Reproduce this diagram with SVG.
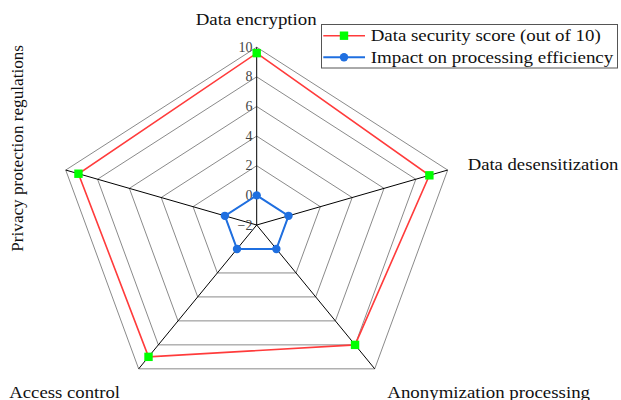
<svg xmlns="http://www.w3.org/2000/svg" width="621" height="400" viewBox="0 0 621 400">
<style>
.ring{fill:none;stroke:#8a8a8a;stroke-width:1}
.axis{stroke:#000;stroke-width:1;fill:none}
.lbl{font-family:"Liberation Serif","Times New Roman",serif;font-size:16px;fill:#111}
.tick{font-family:"Liberation Serif","Times New Roman",serif;font-size:14px;fill:#444;text-anchor:end;dominant-baseline:central}
.red{fill:none;stroke:#ff3b3b;stroke-width:1.6}
.blue{fill:none;stroke:#1f6fe0;stroke-width:2}
.sq{fill:#00ff00}
.dot{fill:#1f6fe0}
</style>
<defs>
<rect id="sq" x="-4.2" y="-4.2" width="8.4" height="8.4" class="sq"/>
<circle id="dot" r="4.2" class="dot"/>
</defs>
<rect width="621" height="400" fill="#fff"/>
<g id="grid">
<polygon class="ring" points="256.7,195.37 288.53,215.84 276.37,248.97 237.03,248.97 224.87,215.84"/>
<polygon class="ring" points="256.7,165.73 320.36,206.69 296.04,272.95 217.36,272.95 193.04,206.69"/>
<polygon class="ring" points="256.7,136.1 352.19,197.53 315.72,296.92 197.69,296.92 161.21,197.53"/>
<polygon class="ring" points="256.7,106.47 384.02,188.37 335.39,320.89 178.01,320.89 129.38,188.37"/>
<polygon class="ring" points="256.7,76.83 415.85,179.22 355.06,344.87 158.34,344.87 97.55,179.22"/>
<polygon class="ring" points="256.7,47.2 447.68,170.06 374.73,368.84 138.67,368.84 65.72,170.06"/>
</g>
<g id="connectors">
<line class="axis" x1="256.7" y1="225" x2="256.7" y2="47.2"/>
<line class="axis" x1="256.7" y1="225" x2="447.68" y2="170.06"/>
<line class="axis" x1="256.7" y1="225" x2="374.73" y2="368.84"/>
<line class="axis" x1="256.7" y1="225" x2="138.67" y2="368.84"/>
<line class="axis" x1="256.7" y1="225" x2="65.72" y2="170.06"/>
</g>
<g id="ticks">
<text class="tick" x="252.5" y="225">−2</text>
<text class="tick" x="252.5" y="195.4">0</text>
<text class="tick" x="252.5" y="165.7">2</text>
<text class="tick" x="252.5" y="136.1">4</text>
<text class="tick" x="252.5" y="106.5">6</text>
<text class="tick" x="252.5" y="76.8">8</text>
<text class="tick" x="252.5" y="47.2">10</text>
</g>
<g id="series-security">
<polygon class="red" points="256.7,53.13 429.38,175.32 355.06,344.87 148.51,356.85 78.45,173.72"/>
<use href="#sq" x="256.7" y="53.13"/>
<use href="#sq" x="429.38" y="175.32"/>
<use href="#sq" x="355.06" y="344.87"/>
<use href="#sq" x="148.51" y="356.85"/>
<use href="#sq" x="78.45" y="173.72"/>
</g>
<g id="series-impact">
<polygon class="blue" points="256.7,195.37 288.53,215.84 276.37,248.97 237.03,248.97 224.87,215.84"/>
<use href="#dot" x="256.7" y="195.37"/>
<use href="#dot" x="288.53" y="215.84"/>
<use href="#dot" x="276.37" y="248.97"/>
<use href="#dot" x="237.03" y="248.97"/>
<use href="#dot" x="224.87" y="215.84"/>
</g>
<g id="axis-labels">
<text id="lbl-encryption" class="lbl" x="195.7" y="25" textLength="121" lengthAdjust="spacingAndGlyphs">Data encryption</text>
<text id="lbl-desensitization" class="lbl" x="467.7" y="170" textLength="150.7" lengthAdjust="spacingAndGlyphs">Data desensitization</text>
<text id="lbl-anonymization" class="lbl" x="387.3" y="397.7" textLength="202.7" lengthAdjust="spacingAndGlyphs">Anonymization processing</text>
<text id="lbl-access" class="lbl" x="9.3" y="397.5" textLength="110.7" lengthAdjust="spacingAndGlyphs">Access control</text>
<text id="lbl-privacy" class="lbl" transform="translate(22.5,251.7) rotate(-90)" x="0" y="0" textLength="206.7" lengthAdjust="spacingAndGlyphs">Privacy protection regulations</text>
</g>
<g id="legend">
<rect x="321.5" y="24.5" width="296" height="43.5" fill="#fff" stroke="#555" stroke-width="1"/>
<line x1="323.3" y1="35.7" x2="365" y2="35.7" stroke="#ff3b3b" stroke-width="1.6"/>
<use href="#sq" x="344" y="35.7"/>
<text class="lbl" x="370.7" y="40.7" textLength="230" lengthAdjust="spacingAndGlyphs">Data security score (out of 10)</text>
<line x1="323.3" y1="57.3" x2="365" y2="57.3" stroke="#1f6fe0" stroke-width="2"/>
<use href="#dot" x="344" y="57.3"/>
<text class="lbl" x="370.7" y="62.7" textLength="242.6" lengthAdjust="spacingAndGlyphs">Impact on processing efficiency</text>
</g>
</svg>
